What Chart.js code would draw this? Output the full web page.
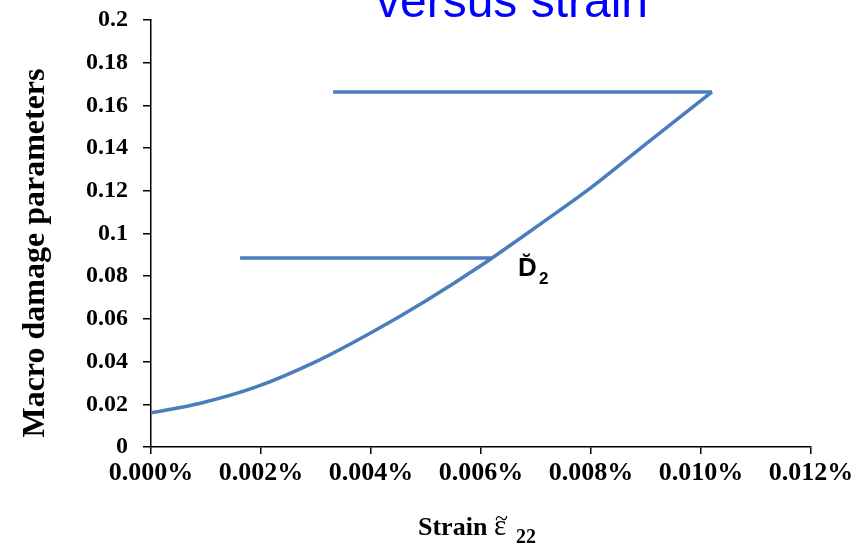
<!DOCTYPE html>
<html>
<head>
<meta charset="utf-8">
<script src="https://cdn.jsdelivr.net/npm/chart.js@4.4.1/dist/chart.umd.min.js"></script>
<style>
  html, body { margin: 0; padding: 0; background: #fff; }
  #wrap { width: 867px; height: 549px; }
</style>
</head>
<body>
<div id="wrap"><canvas id="chart1" width="867" height="549"></canvas></div>
<script>
// strain in %, damage value
var strainPct = [0, 0.0009, 0.0019, 0.0030, 0.0040, 0.0050, 0.0060, 0.0070, 0.0080, 0.0090, 0.0102];
var damage    = [0.016, 0.0205, 0.0280, 0.0400, 0.0535, 0.0685, 0.0850, 0.1030, 0.1215, 0.1420, 0.1663];

// the two horizontal pointer lines
var topLineStrain = [0.0102, 0.00331];
var topLineValue  = [0.1663, 0.1663];
var d2LineStrain  = [0.00162, 0.00619];
var d2LineValue   = [0.0885, 0.0885];

var xTickMin = 0, xTickMax = 0.012, xTickStep = 0.002;
var yTickMin = 0, yTickMax = 0.2, yTickStep = 0.02;

var lineBlue = "#4a7ebb";
var serif = "'Liberation Serif', 'Times New Roman', serif";
var sans = "'Liberation Sans', Arial, sans-serif";

function pts(xs, ys) {
  return xs.map(function(x, i){ return {x: x, y: ys[i]}; });
}

var textPlugin = {
  id: "texts",
  afterDraw: function(chart) {
    var ctx = chart.ctx;
    ctx.save();

    // title (cut off at the top)
    ctx.fillStyle = "#0000ff";
    ctx.font = "48px " + sans;
    ctx.textAlign = "center";
    ctx.textBaseline = "alphabetic";
    ctx.fillText("versus strain", 512, 17);

    // y axis title
    ctx.fillStyle = "#000";
    ctx.font = "bold 32px " + serif;
    ctx.save();
    ctx.translate(44, 253);
    ctx.rotate(-Math.PI / 2);
    ctx.textAlign = "center";
    ctx.fillText("Macro damage parameters", 0, 0);
    ctx.restore();

    // x axis title
    ctx.textAlign = "left";
    ctx.font = "bold 26px " + serif;
    ctx.fillText("Strain", 418, 535);
    ctx.font = "29px " + serif;
    ctx.fillText("\u03b5", 494, 535);
    ctx.textAlign = "center";
    ctx.font = "24px " + serif;
    ctx.fillText("~", 501.5, 526);
    ctx.textAlign = "left";
    ctx.font = "bold 20px " + serif;
    ctx.fillText("22", 516, 543);

    // D2 label
    ctx.font = "bold 26px " + sans;
    ctx.fillText("D", 518, 276);
    ctx.textAlign = "center";
    ctx.font = "bold 22px " + sans;
    ctx.fillText("\u02d8", 527, 270);
    ctx.textAlign = "left";
    ctx.font = "bold 17px " + sans;
    ctx.fillText("2", 539, 284);

    ctx.restore();
  }
};

new Chart(document.getElementById("chart1"), {
  type: "scatter",
  data: {
    datasets: [
      {label: "D2", data: pts(strainPct, damage), showLine: true, borderColor: lineBlue, borderWidth: 3.5, pointRadius: 0, tension: 0.3, fill: false},
      {label: "top", data: pts(topLineStrain, topLineValue), showLine: true, borderColor: lineBlue, borderWidth: 3.5, pointRadius: 0, fill: false},
      {label: "d2 pointer", data: pts(d2LineStrain, d2LineValue), showLine: true, borderColor: lineBlue, borderWidth: 3.5, pointRadius: 0, fill: false}
    ]
  },
  options: {
    responsive: false,
    animation: false,
    layout: {padding: {left: 0, right: 56, top: 20, bottom: 0}},
    plugins: {legend: {display: false}, tooltip: {enabled: false}},
    scales: {
      x: {
        type: "linear",
        min: xTickMin, max: xTickMax,
        grid: {drawOnChartArea: false, color: "#000", tickLength: 7, lineWidth: 1.5},
        border: {color: "#000", width: 1.5},
        ticks: {
          stepSize: xTickStep, color: "#000", padding: 4,
          font: {family: serif, size: 26, weight: "bold"},
          maxRotation: 0,
          callback: function(v){ return v.toFixed(3) + "%"; }
        },
        afterFit: function(scale){ scale.height = 102; scale.paddingLeft = 0; scale.paddingRight = 0; }
      },
      y: {
        min: yTickMin, max: yTickMax,
        grid: {drawOnChartArea: false, color: "#000", tickLength: 8, lineWidth: 1.5},
        border: {color: "#000", width: 1.5},
        ticks: {
          stepSize: yTickStep, color: "#000", padding: 15,
          font: {family: serif, size: 24, weight: "bold"},
          callback: function(v){ return String(Number(v.toFixed(2))); }
        },
        afterFit: function(scale){ scale.width = 151; scale.paddingTop = 0; scale.paddingBottom = 0; }
      }
    }
  },
  plugins: [textPlugin]
});
</script>
</body>
</html>
